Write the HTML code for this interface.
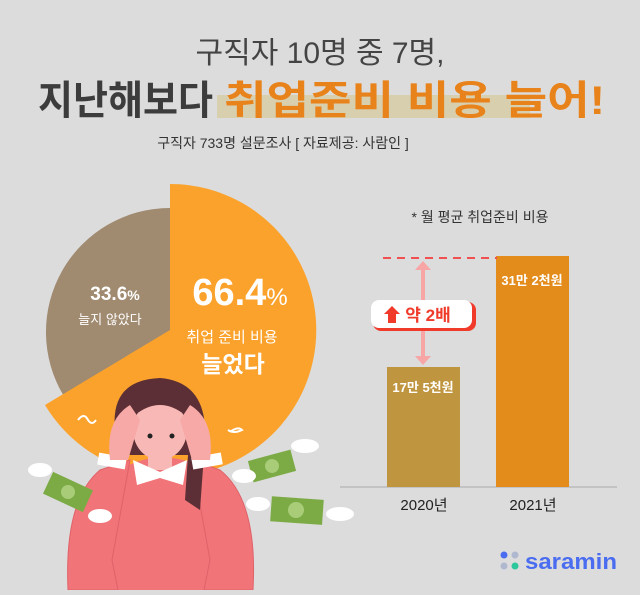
<!DOCTYPE html>
<html><head><meta charset="utf-8"><style>
body{margin:0;width:640px;height:590px;background:#dcdcdc;overflow:hidden;font-family:"Liberation Sans","Noto Sans CJK KR",sans-serif;}
svg text{font-family:"Liberation Sans","Noto Sans CJK KR",sans-serif;}
</style></head><body>
<svg width="640" height="590" viewBox="0 0 640 590" xmlns="http://www.w3.org/2000/svg">
<rect width="640" height="590" fill="#dcdcdc"/>
<!-- title -->
<text x="320" y="63" text-anchor="middle" font-size="30" fill="#444">구직자 10명 중 7명,</text>
<rect x="217" y="95" width="313" height="23" fill="#d8cfae"/>
<text x="38" y="114" font-size="40" font-weight="bold" fill="#3c3c3c" textLength="175" lengthAdjust="spacingAndGlyphs">지난해보다</text>
<text x="224" y="114" font-size="40" font-weight="bold" fill="#e8821a" textLength="381" lengthAdjust="spacingAndGlyphs">취업준비 비용 늘어!</text>
<text x="283" y="148" text-anchor="middle" font-size="14" fill="#333">구직자 733명 설문조사  [ 자료제공: 사람인 ]</text>
<!-- pie -->
<path d="M170,332 L63.7,395.9 A124,124 0 0 1 170,208 Z" fill="#a08a70"/>
<path d="M170,330 L170,184 A146,146 0 1 1 45,405 Z" fill="#fba22c"/>
<text x="115" y="300" text-anchor="middle" font-size="19" font-weight="bold" fill="#fff">33.6<tspan font-size="14">%</tspan></text>
<text x="110" y="324" text-anchor="middle" font-size="13" fill="#fff">늘지 않았다</text>
<text x="240" y="305" text-anchor="middle" font-size="38" font-weight="bold" fill="#fff">66.4<tspan font-size="24" font-weight="normal">%</tspan></text>
<text x="232" y="342" text-anchor="middle" font-size="15" fill="#fff">취업 준비 비용</text>
<text x="233" y="372" text-anchor="middle" font-size="23" font-weight="bold" fill="#fff">늘었다</text>
<path d="M78,420 q6,-8 10,0 q4,6 8,0" stroke="#fff" stroke-width="2" fill="none"/>
<path d="M230,432 q8,-6 12,-2 q-8,4 -14,0" stroke="#fff" stroke-width="2" fill="none"/>
<!-- woman -->
<path d="M120,470 Q160,445 210,470 L245,590 L75,590 Z" fill="#f07478"/>
<path d="M68,590 Q64,500 100,470 L130,460 L112,560 L118,590 Z" fill="#f07478" stroke="#e0626a"/>
<path d="M253,590 Q258,500 220,470 L192,460 L210,560 L204,590 Z" fill="#f07478" stroke="#e0626a"/>
<path d="M115,430 Q110,380 160,378 Q208,382 205,440 L200,510 L185,500 L188,455 L130,455 Z" fill="#5b2f35"/>
<ellipse cx="160" cy="430" rx="27" ry="30" fill="#f8b8b5"/>
<path d="M135,415 Q160,395 185,415 L185,405 Q160,385 135,405 Z" fill="#5b2f35"/>
<rect x="148" y="452" width="24" height="18" fill="#f8b8b5"/>
<path d="M133,460 L160,472 L187,460 L183,485 L160,478 L137,485 Z" fill="#fff"/>
<rect x="98" y="455" width="28" height="12" fill="#fff" transform="rotate(10 112 461)"/>
<rect x="192" y="455" width="30" height="12" fill="#fff" transform="rotate(-10 207 461)"/>
<path d="M110,460 Q105,420 130,405 L140,420 L128,460 Z" fill="#f6a9a6"/>
<path d="M210,460 Q215,420 190,405 L180,420 L192,460 Z" fill="#f6a9a6"/>
<circle cx="150" cy="436" r="2.5" fill="#222"/><circle cx="172" cy="436" r="2.5" fill="#222"/>
<!-- money -->
<g transform="rotate(25 68 492)"><rect x="46" y="480" width="44" height="24" fill="#7cab46"/><circle cx="68" cy="492" r="7" fill="#a8cc78"/></g>
<g transform="rotate(-15 272 466)"><rect x="250" y="455" width="44" height="22" fill="#7cab46"/><circle cx="272" cy="466" r="7" fill="#a8cc78"/></g>
<g transform="rotate(4 296 510)"><rect x="271" y="498" width="52" height="25" fill="#7cab46"/><circle cx="296" cy="510" r="8" fill="#a8cc78"/></g>
<ellipse cx="40" cy="470" rx="12" ry="7" fill="#fff"/><ellipse cx="100" cy="516" rx="12" ry="7" fill="#fff"/>
<ellipse cx="305" cy="446" rx="14" ry="7" fill="#fff"/><ellipse cx="244" cy="476" rx="12" ry="7" fill="#fff"/>
<ellipse cx="258" cy="504" rx="12" ry="7" fill="#fff"/><ellipse cx="340" cy="514" rx="14" ry="7" fill="#fff"/>
<!-- bar chart -->
<text x="480" y="222" text-anchor="middle" font-size="14" fill="#333">* 월 평균 취업준비 비용</text>
<line x1="340" y1="487" x2="617" y2="487" stroke="#aaa" stroke-width="1"/>
<rect x="387" y="367" width="73" height="120" fill="#c09540"/>
<rect x="496" y="256" width="73" height="231" fill="#e38c1c"/>
<line x1="383" y1="258" x2="497" y2="258" stroke="#f05050" stroke-width="2" stroke-dasharray="8,6"/>
<line x1="423" y1="268" x2="423" y2="358" stroke="#f7a5a5" stroke-width="4"/>
<path d="M415,270 L423,261 L431,270 Z M415,356 L423,365 L431,356 Z" fill="#f7a5a5"/>
<rect x="373" y="302" width="103" height="29" rx="8" fill="#f03a2a"/>
<rect x="371" y="300" width="101" height="28" rx="8" fill="#fff"/>
<path d="M392,306 L400,314 L396,314 L396,323 L388,323 L388,314 L384,314 Z" fill="#f03a2a"/>
<text x="428" y="321" text-anchor="middle" font-size="17" font-weight="bold" fill="#f03a2a">약 2배</text>
<text x="423" y="392" text-anchor="middle" font-size="13" font-weight="bold" fill="#fff">17만 5천원</text>
<text x="532" y="285" text-anchor="middle" font-size="13" font-weight="bold" fill="#fff">31만 2천원</text>
<text x="424" y="510" text-anchor="middle" font-size="15" fill="#222">2020년</text>
<text x="533" y="510" text-anchor="middle" font-size="15" fill="#222">2021년</text>
<!-- logo -->
<circle cx="504" cy="555" r="3.5" fill="#4a6cf0"/><circle cx="515" cy="555" r="3.5" fill="#b0b8d0"/>
<circle cx="504" cy="566" r="3.5" fill="#b0b8d0"/><circle cx="515" cy="566" r="3.5" fill="#2cc79a"/>
<text x="525" y="569" font-size="22" font-weight="bold" fill="#4a6cf0" textLength="92" lengthAdjust="spacingAndGlyphs">saramin</text>
</svg>
</body></html>
